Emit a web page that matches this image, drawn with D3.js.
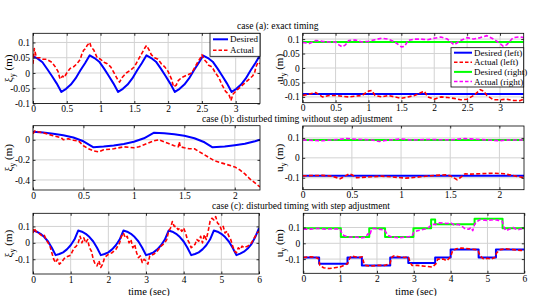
<!DOCTYPE html>
<html>
<head>
<meta charset="utf-8">
<script src="https://cdn.jsdelivr.net/npm/d3@7"></script>
<style>
body { margin: 0; background: #fff; }
svg { display: block; }
text { font-family: "Liberation Serif", "Times New Roman", serif; fill: #000; }
</style>
</head>
<body>
<svg id="chart" width="550" height="296"></svg>
<script>
// case (a): exact timing
var aXiDesired = [[0,0.055],[0.07,0.047],[0.14,0.035],[0.21,0.013],[0.28,-0.01],[0.35,-0.034],[0.42,-0.062],
  [0.49,-0.052],[0.56,-0.038],[0.63,-0.018],[0.70,0.008],[0.77,0.032],[0.84,0.058],
  [0.91,0.049],[0.98,0.037],[1.05,0.015],[1.12,-0.009],[1.19,-0.034],[1.26,-0.062],
  [1.33,-0.052],[1.40,-0.038],[1.47,-0.018],[1.54,0.008],[1.61,0.032],[1.68,0.058],
  [1.75,0.049],[1.82,0.037],[1.89,0.015],[1.96,-0.009],[2.03,-0.034],[2.10,-0.062],
  [2.17,-0.052],[2.24,-0.038],[2.31,-0.018],[2.38,0.008],[2.45,0.032],[2.52,0.057],
  [2.59,0.049],[2.66,0.037],[2.73,0.015],[2.80,-0.009],[2.87,-0.034],[2.94,-0.062],
  [3.01,-0.052],[3.08,-0.038],[3.15,-0.018],[3.22,0.008],[3.29,0.032],[3.36,0.058]];
var aXiActual = [[0,0.03],[0.02,0.08],[0.05,0.05],[0.1,0.05],[0.15,0.045],[0.2,0.045],[0.28,0.035],[0.33,0.02],
  [0.37,0.005],[0.4,-0.02],[0.44,-0.01],[0.46,-0.015],[0.5,0.0],[0.55,0.015],[0.6,0.02],[0.65,0.03],
  [0.7,0.045],[0.72,0.06],[0.75,0.075],[0.78,0.08],[0.8,0.09],[0.84,0.1],[0.86,0.085],[0.9,0.075],
  [0.95,0.05],[1.0,0.045],[1.05,0.035],[1.1,0.03],[1.15,0.02],[1.2,0.0],[1.25,-0.02],[1.28,-0.03],
  [1.32,-0.015],[1.38,0.0],[1.45,0.01],[1.5,0.02],[1.55,0.04],[1.6,0.06],[1.65,0.08],[1.68,0.09],
  [1.72,0.075],[1.75,0.06],[1.8,0.05],[1.85,0.045],[1.9,0.03],[1.95,0.02],[2.0,0.005],[2.05,-0.02],
  [2.08,-0.045],[2.12,-0.04],[2.15,-0.025],[2.2,-0.015],[2.25,-0.01],[2.3,-0.005],[2.35,0.0],[2.4,0.02],
  [2.45,0.04],[2.48,0.05],[2.5,0.06],[2.53,0.045],[2.57,0.035],[2.6,0.025],[2.65,0.02],[2.7,0.0],
  [2.75,-0.015],[2.8,-0.04],[2.85,-0.06],[2.9,-0.07],[2.93,-0.09],[2.96,-0.07],[3.0,-0.06],[3.05,-0.05],
  [3.1,-0.04],[3.15,-0.03],[3.2,-0.02],[3.25,-0.01],[3.28,0.0],[3.3,0.02],[3.33,0.035],[3.36,0.03]];
var aUDesiredLeft = [[0,-0.09],[3.36,-0.09]];
var aUDesiredRight = [[0,0.09],[3.36,0.09]];
var aUActualRight = [[0,0.088],[0.1,0.085],[0.2,0.095],[0.3,0.092],[0.4,0.09],[0.5,0.09],[0.55,0.08],[0.6,0.073],
  [0.65,0.08],[0.7,0.095],[0.8,0.097],[0.9,0.09],[1.0,0.092],[1.1,0.098],[1.2,0.103],[1.3,0.1],[1.4,0.09],
  [1.5,0.073],[1.55,0.075],[1.6,0.095],[1.7,0.1],[1.8,0.1],[1.9,0.098],[2.0,0.103],[2.1,0.107],[2.2,0.1],
  [2.3,0.08],[2.4,0.095],[2.5,0.105],[2.6,0.1],[2.7,0.105],[2.8,0.112],[2.9,0.1],[3.0,0.085],[3.05,0.075],
  [3.1,0.08],[3.2,0.105],[3.3,0.108],[3.36,0.105]];
var aUActualLeft = [[0,-0.095],[0.1,-0.09],[0.2,-0.085],[0.3,-0.1],[0.4,-0.095],[0.5,-0.095],[0.6,-0.098],
  [0.7,-0.1],[0.8,-0.097],[0.9,-0.095],[1.0,-0.08],[1.05,-0.078],[1.1,-0.095],[1.2,-0.1],[1.3,-0.095],
  [1.4,-0.1],[1.5,-0.105],[1.6,-0.1],[1.7,-0.095],[1.8,-0.085],[1.85,-0.08],[1.9,-0.1],[2.0,-0.108],
  [2.1,-0.1],[2.2,-0.102],[2.3,-0.105],[2.4,-0.11],[2.5,-0.108],[2.6,-0.095],[2.7,-0.075],[2.75,-0.08],
  [2.8,-0.095],[2.9,-0.11],[3.0,-0.11],[3.1,-0.108],[3.2,-0.112],[3.3,-0.113],[3.36,-0.108]];

// case (b): disturbed timing without step adjustment
var bXiDesired = [[0,0.08],[0.1,0.072],[0.2,0.06],[0.3,0.045],[0.4,0.022],[0.5,-0.015],[0.6,-0.075],
  [0.7,-0.068],[0.8,-0.058],[0.9,-0.042],[1.0,-0.02],[1.1,0.015],[1.2,0.07],
  [1.3,0.065],[1.4,0.055],[1.5,0.04],[1.6,0.015],[1.7,-0.025],[1.78,-0.075],
  [1.9,-0.068],[2.0,-0.055],[2.1,-0.04],[2.2,-0.015],[2.25,0.0]];
var bXiActual = [[0,0.06],[0.02,0.09],[0.05,0.08],[0.1,0.07],[0.2,0.04],[0.28,0.02],[0.3,0.0],[0.35,0.01],
  [0.4,-0.005],[0.45,-0.01],[0.5,-0.06],[0.55,-0.09],[0.6,-0.11],[0.65,-0.12],[0.7,-0.1],[0.8,-0.09],
  [0.9,-0.07],[1.0,-0.08],[1.05,-0.07],[1.1,-0.05],[1.15,-0.03],[1.2,-0.01],[1.25,0.0],[1.3,-0.02],
  [1.35,-0.04],[1.4,-0.06],[1.44,-0.07],[1.45,-0.02],[1.46,-0.07],[1.5,-0.08],[1.55,-0.09],[1.6,-0.09],
  [1.65,-0.12],[1.7,-0.15],[1.8,-0.21],[1.9,-0.24],[2.0,-0.27],[2.05,-0.3],[2.1,-0.34],[2.15,-0.39],
  [2.2,-0.43],[2.25,-0.47]];
var bUDesiredLeft = [[0,-0.09],[2.25,-0.09]];
var bUDesiredRight = [[0,0.09],[2.25,0.09]];
var bUActualRight = [[0,0.09],[0.2,0.086],[0.3,0.09],[0.45,0.097],[0.5,0.095],[0.6,0.092],[0.7,0.09],
  [0.78,0.082],[0.85,0.088],[1.0,0.095],[1.1,0.09],[1.3,0.092],[1.5,0.09],[1.65,0.097],[1.8,0.092],
  [2.0,0.086],[2.1,0.09],[2.25,0.09]];
var bUActualLeft = [[0,-0.09],[0.2,-0.088],[0.3,-0.092],[0.38,-0.105],[0.42,-0.095],[0.47,-0.08],
  [0.5,-0.085],[0.55,-0.1],[0.6,-0.098],[0.7,-0.095],[0.8,-0.092],[0.9,-0.095],[1.0,-0.1],[1.05,-0.102],
  [1.1,-0.1],[1.2,-0.095],[1.3,-0.09],[1.45,-0.085],[1.5,-0.09],[1.57,-0.11],[1.6,-0.1],[1.65,-0.08],
  [1.7,-0.082],[1.8,-0.08],[1.95,-0.077],[2.05,-0.08],[2.15,-0.09],[2.25,-0.1]];

// case (c): disturbed timing with step adjustment
var cXiDesired = [[0,0.075],[0.1,0.068],[0.2,0.055],[0.3,0.035],[0.4,0.008],[0.5,-0.03],[0.6,-0.075],
  [0.7,-0.068],[0.8,-0.058],[0.9,-0.04],[1.0,-0.015],[1.1,0.02],[1.2,0.075],
  [1.3,0.068],[1.4,0.055],[1.5,0.035],[1.6,0.008],[1.7,-0.03],[1.8,-0.075],
  [1.9,-0.068],[2.0,-0.058],[2.1,-0.04],[2.2,-0.015],[2.3,0.02],[2.4,0.075],
  [2.5,0.068],[2.6,0.055],[2.7,0.035],[2.8,0.008],[2.9,-0.03],[3.0,-0.075],
  [3.1,-0.068],[3.2,-0.058],[3.3,-0.04],[3.4,-0.015],[3.5,0.02],[3.6,0.075],
  [3.7,0.068],[3.8,0.055],[3.9,0.035],[4.0,0.008],[4.1,-0.03],[4.2,-0.075],
  [4.3,-0.068],[4.4,-0.058],[4.5,-0.04],[4.6,-0.015],[4.7,0.02],[4.8,0.075],
  [4.9,0.068],[5.0,0.055],[5.1,0.035],[5.2,0.008],[5.3,-0.03],[5.4,-0.075],
  [5.5,-0.066],[5.6,-0.054],[5.7,-0.035],[5.8,-0.008],[5.9,0.035],[6.0,0.09]];
var cXiActual = [[0,0.06],[0.03,0.09],[0.08,0.07],[0.15,0.06],[0.2,0.05],[0.25,0.04],[0.3,0.045],[0.35,0.02],
  [0.4,0.0],[0.45,-0.02],[0.5,-0.06],[0.55,-0.1],[0.6,-0.12],[0.65,-0.1],[0.7,-0.13],[0.75,-0.12],
  [0.85,-0.09],[0.95,-0.08],[1.0,-0.075],[1.05,-0.05],[1.1,-0.03],[1.15,-0.02],[1.2,0.0],[1.25,0.04],
  [1.3,0.0],[1.35,0.03],[1.4,0.0],[1.45,0.02],[1.5,-0.03],[1.55,-0.05],[1.6,-0.1],[1.65,-0.13],
  [1.7,-0.14],[1.75,-0.11],[1.8,-0.15],[1.85,-0.13],[1.9,-0.09],[2.0,-0.07],[2.1,-0.06],[2.2,-0.04],
  [2.25,-0.02],[2.3,0.0],[2.35,0.04],[2.4,0.06],[2.45,0.03],[2.5,0.04],[2.55,0.0],[2.6,0.02],
  [2.65,-0.03],[2.7,-0.01],[2.75,-0.06],[2.8,-0.09],[2.85,-0.08],[2.9,-0.12],[2.95,-0.1],[3.0,-0.11],
  [3.05,-0.13],[3.1,-0.08],[3.2,-0.07],[3.3,-0.05],[3.4,-0.02],[3.5,0.0],[3.55,0.02],[3.6,0.07],
  [3.65,0.09],[3.7,0.13],[3.75,0.1],[3.8,0.1],[3.85,0.08],[3.9,0.09],[3.95,0.07],[4.0,0.09],
  [4.05,0.06],[4.1,0.02],[4.15,0.0],[4.2,-0.03],[4.25,-0.02],[4.3,-0.01],[4.35,0.02],[4.4,0.01],
  [4.45,0.04],[4.5,0.0],[4.55,0.05],[4.6,0.02],[4.65,0.07],[4.7,0.13],[4.75,0.15],[4.8,0.14],
  [4.85,0.16],[4.9,0.12],[4.95,0.11],[5.0,0.08],[5.05,0.1],[5.1,0.06],[5.15,0.07],[5.2,0.04],
  [5.25,0.02],[5.3,-0.02],[5.35,-0.05],[5.4,-0.06],[5.45,-0.03],[5.5,-0.04],[5.55,-0.02],[5.6,-0.03],
  [5.7,-0.02],[5.8,0.0],[5.85,0.02],[5.9,0.04],[5.95,0.06],[6.0,0.07]];
// step-wise footholds: [time the level starts, level], last entry closes the line
var cUDesiredLeft = [[0,-0.09],[0.43,-0.13],[1.2,-0.09],[1.59,-0.14],[2.36,-0.09],[2.85,-0.125],
  [3.58,-0.09],[4.0,-0.04],[4.76,-0.09],[5.23,-0.04],[6.0,-0.04]];
var cUDesiredRight = [[0,0.095],[1.02,0.04],[1.79,0.095],[2.22,0.04],[2.99,0.095],[3.47,0.15],
  [3.58,0.12],[4.65,0.155],[5.41,0.095],[6.0,0.095]];
var cUActualLeft = [[0,-0.09],[0.2,-0.085],[0.35,-0.09],[0.42,-0.1],[0.45,-0.14],[0.55,-0.155],[0.7,-0.16],
  [0.85,-0.155],[1.0,-0.15],[1.1,-0.14],[1.2,-0.13],[1.25,-0.1],[1.3,-0.08],[1.4,-0.085],[1.5,-0.09],
  [1.6,-0.085],[1.65,-0.13],[1.7,-0.14],[1.8,-0.145],[2.0,-0.14],[2.2,-0.14],[2.35,-0.13],[2.4,-0.09],
  [2.45,-0.08],[2.6,-0.085],[2.75,-0.09],[2.85,-0.085],[2.9,-0.12],[2.95,-0.14],[3.1,-0.14],[3.3,-0.145],
  [3.5,-0.15],[3.6,-0.13],[3.65,-0.1],[3.8,-0.1],[3.9,-0.11],[4.0,-0.085],[4.05,-0.05],[4.15,-0.035],
  [4.3,-0.03],[4.5,-0.035],[4.7,-0.04],[4.75,-0.05],[4.8,-0.08],[4.9,-0.1],[5.0,-0.095],[5.1,-0.1],
  [5.2,-0.09],[5.25,-0.06],[5.35,-0.04],[5.5,-0.035],[5.7,-0.04],[5.9,-0.045],[6.0,-0.045]];
var cUActualRight = [[0,0.09],[0.2,0.09],[0.4,0.095],[0.6,0.09],[0.8,0.092],[1.0,0.09],[1.05,0.06],
  [1.1,0.05],[1.2,0.04],[1.4,0.04],[1.6,0.035],[1.7,0.04],[1.75,0.06],[1.8,0.05],[1.85,0.085],[1.9,0.095],
  [2.05,0.09],[2.2,0.085],[2.3,0.05],[2.4,0.04],[2.6,0.035],[2.8,0.04],[2.95,0.045],[3.0,0.07],[3.1,0.08],
  [3.2,0.085],[3.3,0.09],[3.4,0.1],[3.5,0.12],[3.6,0.12],[3.7,0.13],[3.9,0.125],[4.0,0.13],[4.1,0.115],
  [4.2,0.12],[4.3,0.11],[4.4,0.09],[4.5,0.09],[4.55,0.1],[4.6,0.08],[4.65,0.12],[4.7,0.135],[4.8,0.15],
  [5.0,0.145],[5.2,0.15],[5.3,0.145],[5.4,0.14],[5.45,0.1],[5.5,0.08],[5.6,0.09],[5.7,0.1],[5.8,0.085],
  [5.9,0.09],[6.0,0.1]];

// ticks
var ticksA = [0, 0.5, 1, 1.5, 2, 2.5, 3];
var ticksB = [0, 0.5, 1, 1.5, 2];
var ticksC = [0, 1, 2, 3, 4, 5, 6];
var yTicksA = [-0.1, -0.05, 0, 0.05, 0.1];
var yTicksBLeft = [-0.4, -0.2, 0];
var yTicksSmall = [-0.1, 0, 0.1];

var titles = ["case (a): exact timing",
  "case (b): disturbed timing without step adjustment",
  "case (c): disturbed timing with step adjustment"];

var BLUE = "#0000ff", RED = "#ff0000", GREEN = "#00ff00", MAGENTA = "#ff00ff";
var svg = d3.select("#chart");
var clipId = 0;

function fmt(v){
	return String(Math.round(v * 1000) / 1000);
}

function drawPanel(cfg){
	var x = d3.scaleLinear().domain(cfg.xDomain).range([cfg.left, cfg.right]);
	var y = d3.scaleLinear().domain(cfg.yDomain).range([cfg.bottom, cfg.top]);
	var g = svg.append("g");

	// grid
	g.selectAll(".gx").data(cfg.xTicks).enter().append("line")
		.attr("x1", function(d){ return x(d); }).attr("x2", function(d){ return x(d); })
		.attr("y1", cfg.top).attr("y2", cfg.bottom)
		.attr("stroke", "#d2d2d2").attr("stroke-width", 1);
	g.selectAll(".gy").data(cfg.yTicks).enter().append("line")
		.attr("y1", function(d){ return y(d); }).attr("y2", function(d){ return y(d); })
		.attr("x1", cfg.left).attr("x2", cfg.right)
		.attr("stroke", "#d2d2d2").attr("stroke-width", 1);

	// lines
	var id = "clip" + (clipId++);
	svg.append("clipPath").attr("id", id).append("rect")
		.attr("x", cfg.left).attr("y", cfg.top)
		.attr("width", cfg.right - cfg.left).attr("height", cfg.bottom - cfg.top);
	var lines = g.append("g").attr("clip-path", "url(#" + id + ")");
	cfg.series.forEach(function(s){
		var line = d3.line()
			.x(function(d){ return x(d[0]); })
			.y(function(d){ return y(d[1]); })
			.curve(s.step ? d3.curveStepAfter : d3.curveLinear);
		lines.append("path")
			.attr("d", line(s.data))
			.attr("fill", "none")
			.attr("stroke", s.color)
			.attr("stroke-width", s.width)
			.attr("stroke-dasharray", s.dash || null)
			.attr("stroke-linejoin", "round");
	});

	// axes with inward ticks, box on
	var xb = d3.axisBottom(x).tickValues(cfg.xTicks).tickSizeInner(-2.5).tickSizeOuter(0).tickFormat(fmt);
	var xt = d3.axisTop(x).tickValues(cfg.xTicks).tickSizeInner(-2.5).tickSizeOuter(0).tickFormat("");
	var yl = d3.axisLeft(y).tickValues(cfg.yTicks).tickSizeInner(-2.5).tickSizeOuter(0).tickFormat(fmt);
	var yr = d3.axisRight(y).tickValues(cfg.yTicks).tickSizeInner(-2.5).tickSizeOuter(0).tickFormat("");
	function style(sel){
		sel.selectAll(".domain").remove();
		sel.selectAll("line").attr("stroke", "#000").attr("stroke-width", 0.8);
		sel.selectAll("text").attr("font-family", "Liberation Serif").attr("font-size", "9.5px").attr("fill", "#000");
	}
	var gxb = g.append("g").attr("transform", "translate(0," + cfg.bottom + ")").call(xb);
	style(gxb);
	gxb.selectAll("text").attr("y", 2).attr("dy", "0.71em");
	style(g.append("g").attr("transform", "translate(0," + cfg.top + ")").call(xt));
	var gyl = g.append("g").attr("transform", "translate(" + cfg.left + ",0)").call(yl);
	style(gyl);
	gyl.selectAll("text").attr("x", -3);
	style(g.append("g").attr("transform", "translate(" + cfg.right + ",0)").call(yr));

	g.append("rect")
		.attr("x", cfg.left).attr("y", cfg.top)
		.attr("width", cfg.right - cfg.left).attr("height", cfg.bottom - cfg.top)
		.attr("fill", "none").attr("stroke", "#000").attr("stroke-width", 0.8);

	// y label
	var lab = g.append("text")
		.attr("transform", "translate(" + cfg.labelX + "," + ((cfg.top + cfg.bottom) / 2) + ") rotate(-90)")
		.attr("text-anchor", "middle")
		.attr("font-size", "11px");
	lab.append("tspan").text(cfg.symbol);
	lab.append("tspan").attr("font-size", "8px").attr("dy", 3).text("y");
	lab.append("tspan").attr("dy", -3).text(" (m)");

	if (cfg.xlabel) {
		g.append("text")
			.attr("x", cfg.xlabelX).attr("y", 294.5)
			.attr("text-anchor", "middle")
			.attr("font-size", "10.5px")
			.text(cfg.xlabel);
	}

	if (cfg.legend) {
		var L = cfg.legend;
		var lg = g.append("g");
		lg.append("rect")
			.attr("x", L.x).attr("y", L.y).attr("width", L.w).attr("height", L.h)
			.attr("fill", "#fff").attr("stroke", "#000").attr("stroke-width", 0.8);
		L.items.forEach(function(it, i){
			var yy = L.y + L.first + i * L.step;
			lg.append("line")
				.attr("x1", L.x + 3).attr("x2", L.x + 3 + L.sample)
				.attr("y1", yy).attr("y2", yy)
				.attr("stroke", it.color).attr("stroke-width", it.width)
				.attr("stroke-dasharray", it.dash || null);
			lg.append("text")
				.attr("x", L.x + 5 + L.sample).attr("y", yy).attr("dy", "0.35em")
				.attr("font-size", "9px")
				.text(it.label);
		});
	}
}

var dashW = 1.6, dashP = "4,2.2";

// row (a)
drawPanel({ left: 33, right: 260, top: 33.3, bottom: 103.5, xDomain: [0, 3.36], yDomain: [-0.1, 0.13],
	xTicks: ticksA, yTicks: yTicksA, symbol: "\u03be", labelX: 12,
	series: [
		{ data: aXiDesired, color: BLUE, width: 2 },
		{ data: aXiActual, color: RED, width: dashW, dash: dashP }
	],
	legend: { x: 210, y: 33.3, w: 50, h: 23, first: 6, step: 11, sample: 15, items: [
		{ label: "Desired", color: BLUE, width: 2 },
		{ label: "Actual", color: RED, width: dashW, dash: "3.5,2" }
	] }
});
drawPanel({ left: 302.7, right: 523.7, top: 33.3, bottom: 102.7, xDomain: [0, 3.36], yDomain: [-0.12, 0.12],
	xTicks: ticksA, yTicks: yTicksA, symbol: "u", labelX: 283,
	series: [
		{ data: aUDesiredRight, color: GREEN, width: 2 },
		{ data: aUDesiredLeft, color: BLUE, width: 2 },
		{ data: aUActualRight, color: MAGENTA, width: dashW, dash: dashP },
		{ data: aUActualLeft, color: RED, width: dashW, dash: dashP }
	],
	legend: { x: 451, y: 47.7, w: 72.7, h: 39.3, first: 5, step: 9.6, sample: 18, items: [
		{ label: "Desired (left)", color: BLUE, width: 2 },
		{ label: "Actual (left)", color: RED, width: dashW, dash: "3.5,2" },
		{ label: "Desired (right)", color: GREEN, width: 2 },
		{ label: "Actual (right)", color: MAGENTA, width: dashW, dash: "3.5,2" }
	] }
});

// row (b)
drawPanel({ left: 33, right: 260, top: 125.7, bottom: 190, xDomain: [0, 2.25], yDomain: [-0.5, 0.14],
	xTicks: ticksB, yTicks: yTicksBLeft, symbol: "\u03be", labelX: 12,
	series: [
		{ data: bXiDesired, color: BLUE, width: 2 },
		{ data: bXiActual, color: RED, width: dashW, dash: dashP }
	]
});
drawPanel({ left: 302.7, right: 524, top: 126, bottom: 189.7, xDomain: [0, 2.25], yDomain: [-0.16, 0.16],
	xTicks: ticksB, yTicks: yTicksSmall, symbol: "u", labelX: 283,
	series: [
		{ data: bUDesiredRight, color: GREEN, width: 2 },
		{ data: bUDesiredLeft, color: BLUE, width: 2 },
		{ data: bUActualRight, color: MAGENTA, width: dashW, dash: dashP },
		{ data: bUActualLeft, color: RED, width: dashW, dash: dashP }
	]
});

// row (c)
drawPanel({ left: 33, right: 259, top: 213.3, bottom: 274, xDomain: [0, 6], yDomain: [-0.19, 0.18],
	xTicks: ticksC, yTicks: yTicksSmall, symbol: "\u03be", labelX: 12, xlabel: "time (sec)", xlabelX: 149,
	series: [
		{ data: cXiDesired, color: BLUE, width: 2 },
		{ data: cXiActual, color: RED, width: dashW, dash: dashP }
	]
});
drawPanel({ left: 303.3, right: 524.3, top: 213.3, bottom: 273.3, xDomain: [0, 6], yDomain: [-0.19, 0.19],
	xTicks: ticksC, yTicks: yTicksSmall, symbol: "u", labelX: 283, xlabel: "time (sec)", xlabelX: 416,
	series: [
		{ data: cUDesiredRight, color: GREEN, width: 2, step: true },
		{ data: cUDesiredLeft, color: BLUE, width: 2, step: true },
		{ data: cUActualRight, color: MAGENTA, width: dashW, dash: dashP },
		{ data: cUActualLeft, color: RED, width: dashW, dash: dashP }
	]
});

// row titles
svg.selectAll(".title").data(titles).enter().append("text")
	.attr("class", "title")
	.attr("x", function(d, i){ return [237, 202, 212][i]; })
	.attr("y", function(d, i){ return [26, 119, 206][i]; })
	.attr("dy", "0.35em")
	.attr("font-size", "9.5px")
	.text(function(d){ return d; });
</script>
</body>
</html>
